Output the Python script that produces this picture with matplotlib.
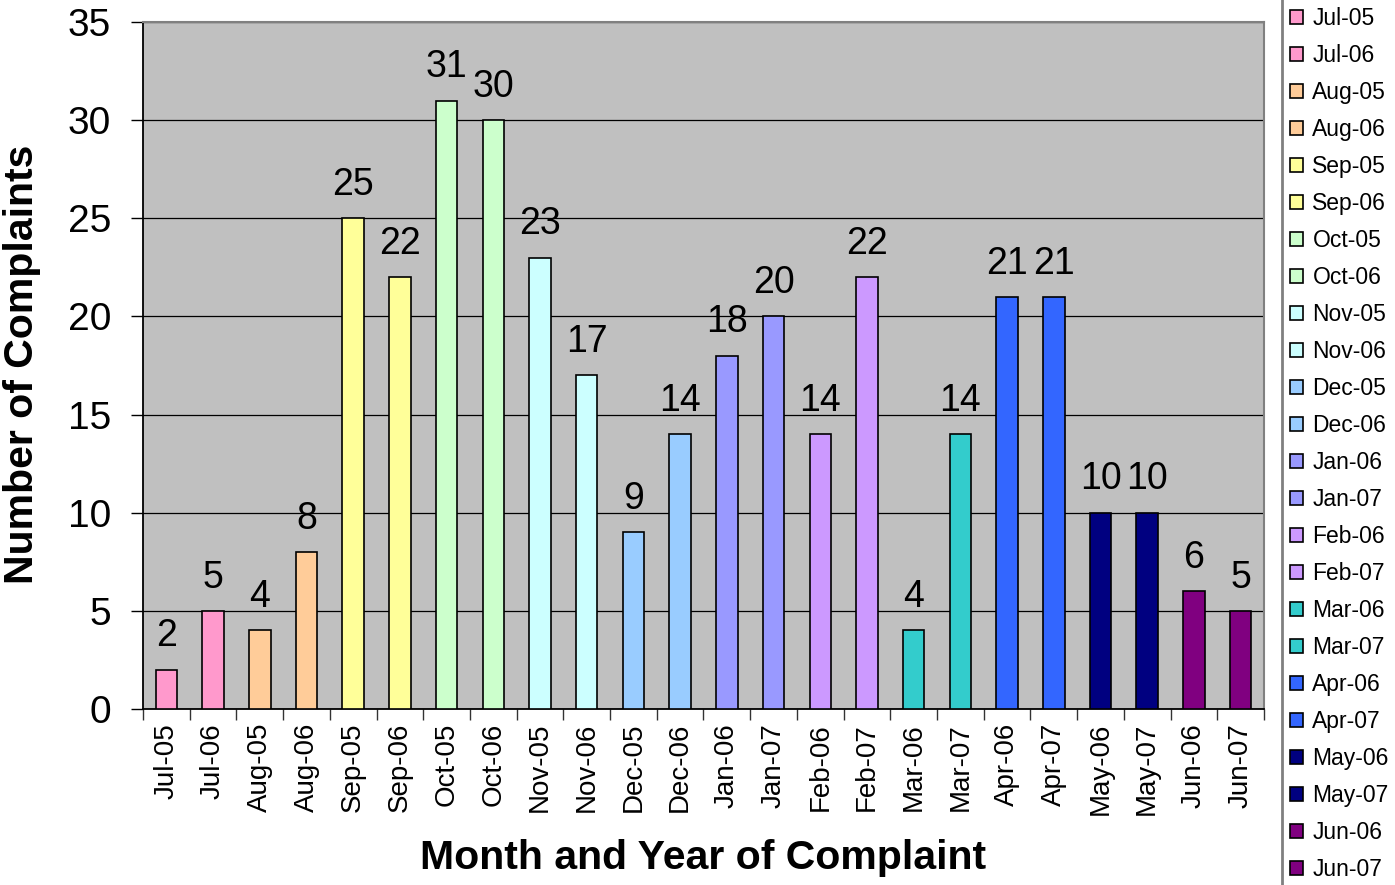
import numpy as np
import matplotlib.pyplot as plt
from matplotlib.patches import Patch
from matplotlib.lines import Line2D

# Complaints per month, Jul-05 to Jun-07 (grouped by month name)
months = ["Jul-05", "Jul-06", "Aug-05", "Aug-06", "Sep-05", "Sep-06",
          "Oct-05", "Oct-06", "Nov-05", "Nov-06", "Dec-05", "Dec-06",
          "Jan-06", "Jan-07", "Feb-06", "Feb-07", "Mar-06", "Mar-07",
          "Apr-06", "Apr-07", "May-06", "May-07", "Jun-06", "Jun-07"]
complaints = [2, 5, 4, 8, 25, 22, 31, 30, 23, 17, 9, 14,
              18, 20, 14, 22, 4, 14, 21, 21, 10, 10, 6, 5]
month_colors = ["#FF99CC", "#FFCC99", "#FFFF99", "#CCFFCC", "#CCFFFF", "#99CCFF",
                "#9999FF", "#CC99FF", "#33CCCC", "#3366FF", "#000080", "#800080"]
colors = [c for c in month_colors for _ in range(2)]

plt.rcParams['font.family'] = ['Liberation Sans', 'DejaVu Sans']

fig = plt.figure(figsize=(13.95, 8.85), dpi=100)
ax = fig.add_axes([143 / 1395, 1 - 709 / 885, (1264 - 143) / 1395, (709 - 22) / 885])
ax.set_facecolor("#C0C0C0")

x = np.arange(len(months))
ax.bar(x, complaints, width=0.46, color=colors, edgecolor="black",
       linewidth=1.2, zorder=3)

for xi, v in zip(x, complaints):
    ax.annotate(str(v), (xi, v), xytext=(0, 11), textcoords="offset points",
                ha="center", va="bottom", fontsize=27)

ax.set_xlim(-0.5, len(months) - 0.5)
ax.set_ylim(0, 35)
ax.set_yticks(range(0, 36, 5))
ax.yaxis.grid(True, color="black", linewidth=0.9, zorder=1)
ax.set_axisbelow(True)
ax.tick_params(axis="y", labelsize=28, length=9, width=1, color="black", pad=14)
ax.set_xticks(x)
ax.set_xticklabels(months, rotation=90, fontsize=20)
ax.tick_params(axis="x", length=0, pad=10)
ax.set_xticks(np.arange(-0.5, len(months)), minor=True)
ax.tick_params(axis="x", which="minor", length=8, width=1, color="#333333")
for s in ["top", "right"]:
    ax.spines[s].set_color("#808080")
    ax.spines[s].set_linewidth(1.5)
for s in ["bottom", "left"]:
    ax.spines[s].set_color("black")
    ax.spines[s].set_linewidth(1.3)

fig.text(703 / 1395, 1 - 858 / 885, "Month and Year of Complaint", ha="center",
         va="center", fontsize=29.5, fontweight="bold")
fig.text(22 / 1395, 1 - 364 / 885, "Number of Complaints", ha="center",
         va="center", rotation=90, fontsize=29.5, fontweight="bold")

handles = [Patch(facecolor=c, edgecolor="black", linewidth=1.2) for c in colors]
fig.legend(handles, months, loc="upper left",
           bbox_to_anchor=(1281 / 1395, 1 + 2 / 885), frameon=False,
           fontsize=16.5, handlelength=0.57, handleheight=0.57,
           handletextpad=0.4, labelspacing=0.61, borderaxespad=0)
fig.add_artist(Line2D([1282 / 1395, 1282 / 1395], [0, 1], color="#808080",
                      linewidth=2, transform=fig.transFigure))

fig.savefig("out.png", dpi=100)
